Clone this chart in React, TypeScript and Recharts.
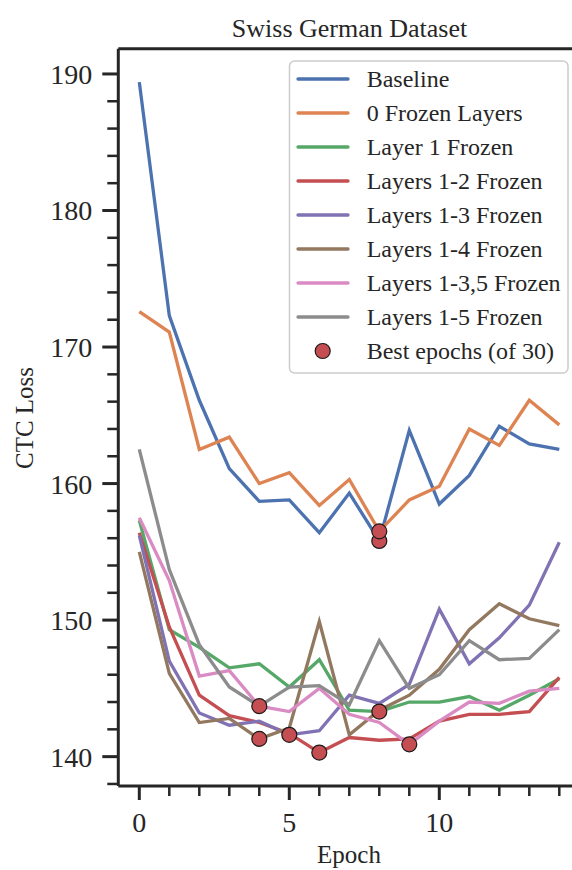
import { ComposedChart, Line, Scatter, XAxis, YAxis, ReferenceLine } from "recharts";

const epochs = [0, 1, 2, 3, 4, 5, 6, 7, 8, 9, 10, 11, 12, 13, 14];

const baseline = [189.4, 172.3, 166.1, 161.1, 158.7, 158.8, 156.4, 159.3, 155.8, 163.9, 158.5, 160.6, 164.2, 162.9, 162.5];
const frozen0 = [172.6, 171.1, 162.5, 163.4, 160.0, 160.8, 158.4, 160.3, 156.5, 158.8, 159.8, 164.0, 162.8, 166.1, 164.3];
const layer1 = [157.3, 149.3, 148.0, 146.5, 146.8, 145.1, 147.1, 143.4, 143.3, 144.0, 144.0, 144.4, 143.4, 144.5, 145.7];
const layers12 = [156.4, 149.5, 144.5, 143.0, 142.5, 141.7, 140.3, 141.4, 141.2, 141.3, 142.6, 143.1, 143.1, 143.3, 145.8];
const layers13 = [156.2, 147.0, 143.2, 142.3, 142.6, 141.6, 141.9, 144.5, 143.9, 145.3, 150.8, 146.8, 148.7, 151.1, 155.7];
const layers14 = [155.0, 146.1, 142.5, 142.8, 141.3, 142.1, 149.9, 141.6, 143.4, 144.5, 146.4, 149.3, 151.2, 150.1, 149.6];
const layers135 = [157.5, 152.9, 145.9, 146.3, 143.7, 143.3, 145.0, 143.1, 142.5, 140.9, 142.6, 144.0, 143.9, 144.8, 145.0];
const layers15 = [162.5, 153.7, 148.2, 145.1, 143.7, 145.1, 145.2, 143.8, 148.5, 145.0, 146.0, 148.5, 147.1, 147.2, 149.3];

// best epoch index for each series (same order as seriesList)
const bestEpochs = [8, 8, 8, 6, 5, 4, 9, 4];

const seriesList = [
  { key: "baseline", name: "Baseline", values: baseline, color: "#4C72B0" },
  { key: "frozen0", name: "0 Frozen Layers", values: frozen0, color: "#DD8452" },
  { key: "layer1", name: "Layer 1 Frozen", values: layer1, color: "#55A868" },
  { key: "layers12", name: "Layers 1-2 Frozen", values: layers12, color: "#C44E52" },
  { key: "layers13", name: "Layers 1-3 Frozen", values: layers13, color: "#8172B3" },
  { key: "layers14", name: "Layers 1-4 Frozen", values: layers14, color: "#937860" },
  { key: "layers135", name: "Layers 1-3,5 Frozen", values: layers135, color: "#DA8BC3" },
  { key: "layers15", name: "Layers 1-5 Frozen", values: layers15, color: "#8C8C8C" },
];

const yTicks = [138, 140, 142, 144, 146, 148, 150, 152, 154, 156, 158, 160, 162, 164, 166, 168, 170, 172, 174, 176, 178, 180, 182, 184, 186, 188, 190];
const xTicks = epochs;

const YMIN = 137.85;
const YMAX = 191.85;

const table = epochs.map((e, i) => {
  const row: Record<string, number> = { epoch: e };
  seriesList.forEach((s) => (row[s.key] = s.values[i]));
  return row;
});

const bestPoints = seriesList.map((s, i) => ({ epoch: bestEpochs[i], loss: s.values[bestEpochs[i]] }));

const INK = "#262626";
const FONT = "'Liberation Serif', 'Times New Roman', serif";

const YTick = (props: any) => {
  const { x, y, payload } = props;
  const major = payload.value % 10 === 0;
  return (
    <g>
      <line x1={x - (major ? 16 : 11)} x2={x} y1={y} y2={y} stroke={INK} strokeWidth={major ? 3 : 2.5} />
      {major && (
        <text x={x - 26} y={y + 10} textAnchor="end" fontSize={28} fill={INK} fontFamily={FONT}>
          {payload.value}
        </text>
      )}
    </g>
  );
};

const XTick = (props: any) => {
  const { x, y, payload } = props;
  const major = payload.value % 5 === 0;
  return (
    <g>
      <line x1={x} x2={x} y1={y} y2={y + (major ? 14 : 10)} stroke={INK} strokeWidth={major ? 3 : 2.5} />
      {major && (
        <text x={x} y={y + 46} textAnchor="middle" fontSize={28} fill={INK} fontFamily={FONT}>
          {payload.value}
        </text>
      )}
    </g>
  );
};

const BestDot = (props: any) => {
  const { cx, cy } = props;
  if (cx == null || cy == null) return <g />;
  return <circle cx={cx} cy={cy} r={7.5} fill="#C44E52" stroke="#1a1a1a" strokeWidth={1.2} />;
};

export default function App() {
  const legendTop = 79;
  const rowGap = 34;
  return (
    <div style={{ position: "absolute", left: 0, top: 0, width: 572, height: 870, overflow: "hidden", background: "#fff" }}>
      <ComposedChart
        width={600}
        height={870}
        data={table}
        margin={{ top: 48.7, right: 19.7, bottom: 0, left: 0 }}
      >
        <XAxis
          dataKey="epoch"
          type="number"
          domain={[-0.7, 14.7]}
          ticks={xTicks}
          interval={0}
          tick={<XTick />}
          tickLine={false}
          tickSize={0}
          tickMargin={0}
          height={84}
          axisLine={{ stroke: INK, strokeWidth: 3 }}
        />
        <YAxis
          type="number"
          domain={[YMIN, YMAX]}
          ticks={yTicks}
          interval={0}
          tick={<YTick />}
          tickLine={false}
          tickSize={0}
          tickMargin={0}
          width={118.3}
          axisLine={{ stroke: INK, strokeWidth: 3 }}
        />
        <ReferenceLine y={YMAX} stroke={INK} strokeWidth={3} />
        {seriesList.map((s) => (
          <Line
            key={s.key}
            dataKey={s.key}
            name={s.name}
            stroke={s.color}
            strokeWidth={3.3}
            dot={false}
            activeDot={false}
            type="linear"
            isAnimationActive={false}
          />
        ))}
        <Scatter data={bestPoints} dataKey="loss" shape={<BestDot />} isAnimationActive={false} />
      </ComposedChart>

      <svg width={572} height={870} style={{ position: "absolute", left: 0, top: 0, pointerEvents: "none" }}>
        <text x={349.5} y={36.5} textAnchor="middle" fontSize={26} fill={INK} fontFamily={FONT}>
          Swiss German Dataset
        </text>
        <text x={349} y={863} textAnchor="middle" fontSize={25} fill={INK} fontFamily={FONT}>
          Epoch
        </text>
        <text
          x={0}
          y={0}
          transform="translate(33,418) rotate(-90)"
          textAnchor="middle"
          fontSize={25}
          fill={INK}
          fontFamily={FONT}
        >
          CTC Loss
        </text>

        <rect x={289.5} y={61} width={278.5} height={312} rx={5} fill="#fff" fillOpacity={0.8} stroke="#cccccc" strokeWidth={1.5} />
        {seriesList.map((s, i) => (
          <g key={s.key}>
            <line x1={298} x2={348} y1={legendTop + i * rowGap} y2={legendTop + i * rowGap} stroke={s.color} strokeWidth={3.3} strokeLinecap="round" />
            <text x={366.7} y={legendTop + i * rowGap + 8} fontSize={24} fill={INK} fontFamily={FONT}>
              {s.name}
            </text>
          </g>
        ))}
        <circle cx={322.7} cy={legendTop + 8 * rowGap} r={7.5} fill="#C44E52" stroke="#1a1a1a" strokeWidth={1.2} />
        <text x={366.7} y={legendTop + 8 * rowGap + 8} fontSize={24} fill={INK} fontFamily={FONT}>
          Best epochs (of 30)
        </text>
      </svg>
    </div>
  );
}
